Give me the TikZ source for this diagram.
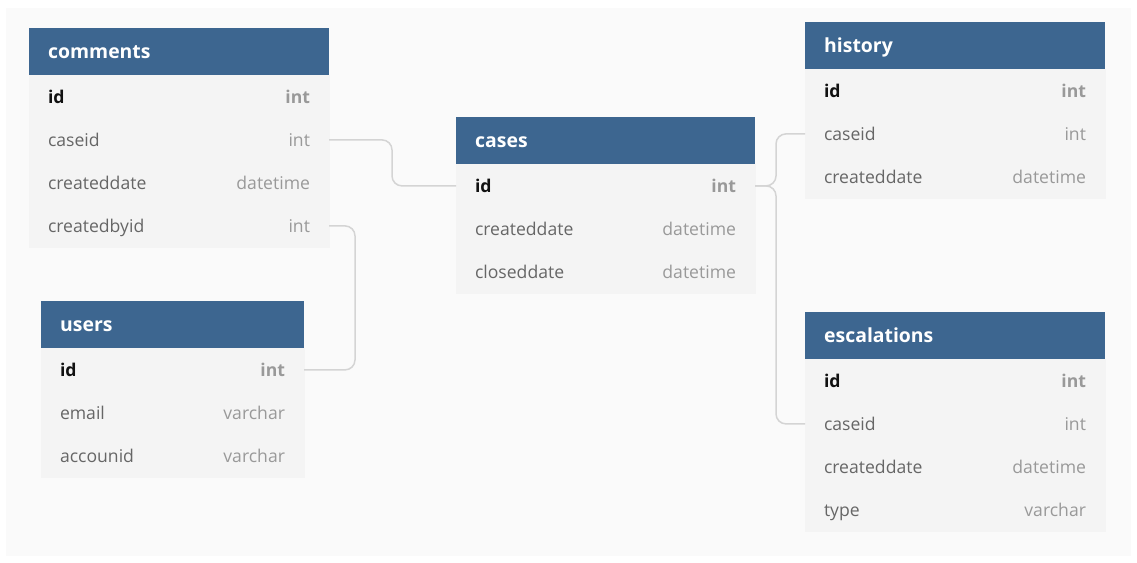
\documentclass[tikz,border=0pt]{standalone}
\usepackage{fontspec}
\setmainfont{Open Sans}
\usetikzlibrary{positioning}

\definecolor{pagebg}{HTML}{FAFAFA}
\definecolor{headblue}{HTML}{3D6690}
\definecolor{rowfill}{HTML}{F4F4F4}
\definecolor{fieldgray}{HTML}{666666}
\definecolor{typegray}{HTML}{999999}
\definecolor{keyblack}{HTML}{111111}
\definecolor{linkgray}{HTML}{D4D4D4}

\newcommand\headfont{\fontsize{19.4}{19.4}\selectfont\bfseries}
\newcommand\rowfont{\fontsize{17.6}{17.6}\selectfont}

% header of a table: #1 node name, #2 position (top left), #3 inner width, #4 title
\newcommand\tablehead[4]{%
  \node[headbox] (#1) at (#2) {\makebox[#3][l]{#4}};}
% ordinary column: #1 node name, #2 node above, #3 inner width, #4 column, #5 type
\newcommand\tablerow[5]{%
  \node[rowbox] (#1) at (#2.south west) {\makebox[#3][l]{\textcolor{fieldgray}{#4}\hfill\textcolor{typegray}{#5}}};}
% primary key column, set in bold
\newcommand\keyrow[5]{%
  \node[rowbox] (#1) at (#2.south west) {\makebox[#3][l]{\bfseries\textcolor{keyblack}{#4}\hfill\textcolor{typegray}{#5}}};}

\tikzset{
  headbox/.style={anchor=north west, fill=headblue, text=white, font=\headfont,
    inner xsep=19pt, inner ysep=0pt, minimum height=47pt,
    text height=14pt, text depth=0pt},
  rowbox/.style={anchor=north west, fill=rowfill, draw=rowfill, line width=0.8pt,
    font=\rowfont, inner xsep=19pt, inner ysep=0pt, minimum height=43pt,
    text height=12.8pt, text depth=0pt, outer sep=0pt},
  link/.style={draw=linkgray, line width=1.5pt, rounded corners=10pt},
}

\begin{document}
\begin{tikzpicture}[x=1pt, y=-1pt]
  \useasboundingbox (0,0) rectangle (1137,562);
  \fill[white] (0,0) rectangle (1137,562);
  \fill[pagebg] (6,8) rectangle (1131,556);

  % comments
  \tablehead{comments}{29,28}{262pt}{comments}
  \keyrow{comments-id}{comments}{262pt}{id}{int}
  \tablerow{comments-caseid}{comments-id}{262pt}{caseid}{int}
  \tablerow{comments-createddate}{comments-caseid}{262pt}{createddate}{datetime}
  \tablerow{comments-createdbyid}{comments-createddate}{262pt}{createdbyid}{int}

  % users
  \tablehead{users}{41,301}{225pt}{users}
  \keyrow{users-id}{users}{225pt}{id}{int}
  \tablerow{users-email}{users-id}{225pt}{email}{varchar}
  \tablerow{users-accounid}{users-email}{225pt}{accounid}{varchar}

  % cases
  \tablehead{cases}{456,117}{261pt}{cases}
  \keyrow{cases-id}{cases}{261pt}{id}{int}
  \tablerow{cases-createddate}{cases-id}{261pt}{createddate}{datetime}
  \tablerow{cases-closeddate}{cases-createddate}{261pt}{closeddate}{datetime}

  % history
  \tablehead{history}{805,22}{262pt}{history}
  \keyrow{history-id}{history}{262pt}{id}{int}
  \tablerow{history-caseid}{history-id}{262pt}{caseid}{int}
  \tablerow{history-createddate}{history-caseid}{262pt}{createddate}{datetime}

  % escalations
  \tablehead{escalations}{805,312}{262pt}{escalations}
  \keyrow{escalations-id}{escalations}{262pt}{id}{int}
  \tablerow{escalations-caseid}{escalations-id}{262pt}{caseid}{int}
  \tablerow{escalations-createddate}{escalations-caseid}{262pt}{createddate}{datetime}
  \tablerow{escalations-type}{escalations-createddate}{262pt}{type}{varchar}

  % relations
  \draw[link] (comments-caseid.east) -- ++(63,0) |- (cases-id.west);
  \draw[link] (comments-createdbyid.east) -- ++(26,0) |- (users-id.east);
  \draw[link] (cases-id.east) -- ++(21,0) |- (history-caseid.west);
  \draw[link] (cases-id.east) -- ++(21,0) |- (escalations-caseid.west);
\end{tikzpicture}
\end{document}
